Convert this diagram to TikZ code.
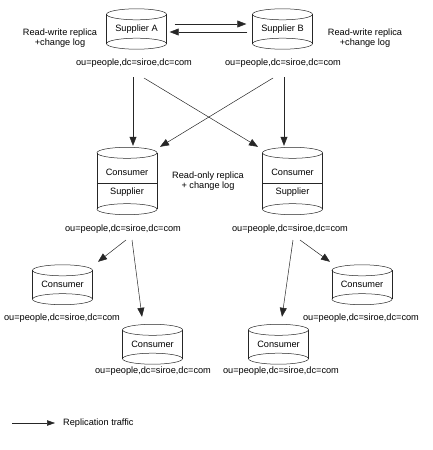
\documentclass[tikz,border=0pt]{standalone}
\usepackage{fontspec}
\setmainfont{Liberation Sans}
\usetikzlibrary{arrows.meta}
\tikzset{
  ln/.style={line width=0.5pt, draw=black!85},
  arr/.style={ln, -{Triangle[length=9pt,width=7pt]}},
  cylbody/.style={minimum width=60pt, inner sep=0pt, font=\fontsize{9.2}{10}\selectfont},
  lbl/.style={inner sep=0pt, font=\fontsize{9.2}{10}\selectfont},
  note/.style={inner sep=0pt, align=center, font=\fontsize{9.2}{10}\selectfont}
}
\newcommand\mycyl[4]{%
  \node[cylbody, minimum height=#3] (#1) at (#2) {#4};
  \draw[ln] (#1.north west) -- (#1.south west) (#1.north east) -- (#1.south east);
  \draw[ln] (#1.north) ellipse [x radius=30pt, y radius=5.5pt];
  \draw[ln] (#1.south) ellipse [x radius=30pt, y radius=5.5pt];
}
\begin{document}
\begin{tikzpicture}[x=1pt, y=-1pt]
\useasboundingbox (0,0) rectangle (432,450);
% suppliers
\mycyl{sA}{136.5,29}{29pt}{Supplier A}
\mycyl{sB}{282.5,29}{29pt}{Supplier B}
\node[note] (rwA) at (60,38) {Read-write replica\\+change log};
\node[note] (rwB) at (365,38) {Read-write replica\\+change log};
\node[lbl] (lA) at (134,63) {ou=people,dc=siroe,dc=com};
\node[lbl] (lB) at (283,63) {ou=people,dc=siroe,dc=com};
\draw[arr] ([shift={(8,-5)}]sA.east) -- ([shift={(-6,-5)}]sB.west);
\draw[arr] ([shift={(-5,3)}]sB.west) -- ([shift={(3,3)}]sA.east);
% middle hubs
\mycyl{mA}{127,181}{56pt}{}
\mycyl{mB}{292.5,181}{56pt}{}
\draw[ln] ([shift={(0,2)}]mA.west) -- ([shift={(0,2)}]mA.east);
\draw[ln] ([shift={(0,2)}]mB.west) -- ([shift={(0,2)}]mB.east);
\node[lbl] (mAc) at (127,172) {Consumer};
\node[lbl] (mAs) at (127,192) {Supplier};
\node[lbl] (mBc) at (292.5,172) {Consumer};
\node[lbl] (mBs) at (292.5,192) {Supplier};
\node[note, font=\fontsize{9.2}{8.5}\selectfont] (ro) at (208,181) {Read-only replica\\+ change log};
\node[lbl] (lmA) at (123,229) {ou=people,dc=siroe,dc=com};
\node[lbl] (lmB) at (290,229) {ou=people,dc=siroe,dc=com};
\draw[arr] ([shift={(-1,14)}]lA.center) -- ([shift={(6,-7)}]mA.north);
\draw[arr] ([shift={(10,15)}]lA.center) -- ([shift={(-34.5,-6)}]mB.north);
\draw[arr] ([shift={(-10,15)}]lB.center) -- ([shift={(33,-6)}]mA.north);
\draw[arr] ([shift={(1,14)}]lB.center) -- ([shift={(-8.5,-7)}]mB.north);
% consumers
\mycyl{c1}{62.5,284.75}{28.5pt}{Consumer}
\mycyl{c2}{152.5,344.25}{28.5pt}{Consumer}
\mycyl{c3}{278.5,344.25}{28.5pt}{Consumer}
\mycyl{c4}{362,284.75}{28.5pt}{Consumer}
\node[lbl] (l1) at (62,318) {ou=people,dc=siroe,dc=com};
\node[lbl] (l2) at (153,371) {ou=people,dc=siroe,dc=com};
\node[lbl] (l3) at (281,371) {ou=people,dc=siroe,dc=com};
\node[lbl] (l4) at (361,318) {ou=people,dc=siroe,dc=com};
\draw[arr] ([shift={(3,11)}]lmA.center) -- ([shift={(35.5,-8.5)}]c1.north);
\draw[arr] ([shift={(9,11)}]lmA.center) -- ([shift={(-10.5,-13)}]c2.north);
\draw[arr] ([shift={(3,11)}]lmB.center) -- ([shift={(3.5,-13)}]c3.north);
\draw[arr] ([shift={(10,11)}]lmB.center) -- ([shift={(-32,-8.5)}]c4.north);
% legend
\coordinate (legS) at (12,423);
\node[lbl, anchor=west] (legT) at (63,423) {Replication traffic};
\draw[ln, -{Triangle[length=8pt,width=5.5pt]}] (legS) -- ([shift={(-8,0)}]legT.west);
\end{tikzpicture}
\end{document}
